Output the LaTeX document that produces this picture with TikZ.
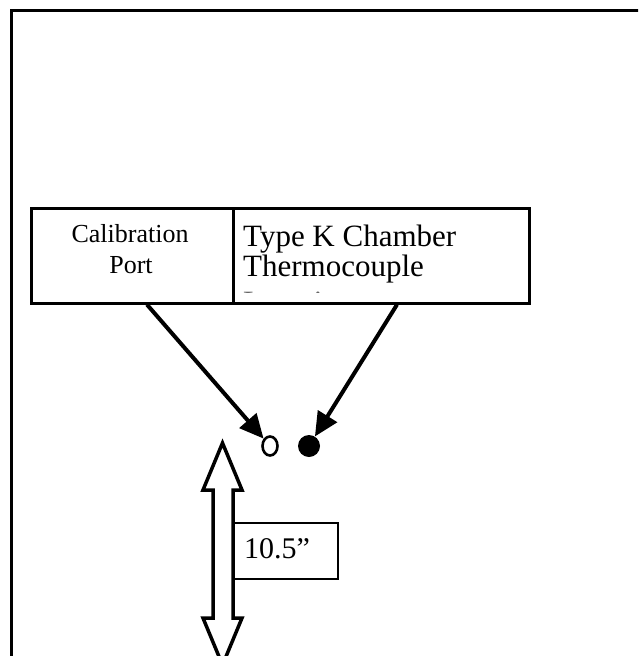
\documentclass[tikz,border=0pt]{standalone}
\usepackage{fontspec}
\setmainfont{Liberation Serif}
\usetikzlibrary{arrows.meta,calc,shapes.geometric}
\begin{document}
\begin{tikzpicture}[x=1pt,y=-1pt,
  boxframe/.style={draw, line width=2.6pt, inner sep=0pt, anchor=north west},
  ptr/.style={line width=4pt, -{Triangle[length=24pt,width=22pt]}},
  calfont/.style={font=\fontsize{26}{31}\selectfont, inner sep=0pt, anchor=base},
  tkfont/.style={font=\fontsize{31}{30}\selectfont, inner sep=0pt, anchor=base west}]
\useasboundingbox (0,0) rectangle (638,656);
\clip (0,0) rectangle (638,656);
% outer frame
\draw[line width=3pt] (11,10) rectangle (680,700);
% label boxes
\node[boxframe, minimum width=202pt, minimum height=95pt] (cal) at (30,207) {};
\node[boxframe, minimum width=296pt, minimum height=95pt] (tk) at (232,207) {};
\node[calfont] (cal1) at (130,242) {Calibration};
\node[calfont] (cal2) at (131,273) {Port};
\node[tkfont] (tk1) at (243,246) {Type K Chamber};
\node[tkfont] (tk2) at (243,276) {Thermocouple};
\begin{scope}
  \clip (233,208) rectangle (527,292);
  \node[tkfont, text=black!60] (tk3) at (243,312) {Location};
\end{scope}
% ports
\node[draw, ellipse, line width=2.6pt, minimum width=15pt, minimum height=19pt, inner sep=0pt] (port) at (270,446) {};
\node[circle, fill=black, minimum size=22pt, inner sep=0pt] (tc) at (309,446) {};
% pointers
\draw[ptr] ($(cal.south west)+(117,0)$) -- (port);
\draw[ptr] ($(tk.south west)+(165,0)$) -- (tc);
% double arrow
\draw[line width=3.5pt, fill=white, line join=miter]
  (222.5,443) -- (242,490) -- (233,490) -- (233,618) -- (242,618) -- (222.5,665)
  -- (203,618) -- (213,618) -- (213,490) -- (203,490) -- cycle;
% length label
\node[draw, line width=2pt, minimum width=104pt, minimum height=56pt, inner sep=0pt, anchor=north west] (len) at (233,522) {};
\node[font=\fontsize{30}{32}\selectfont, inner sep=0pt, anchor=base west] (lentext) at (244,558) {10.5”};
\end{tikzpicture}
\end{document}
